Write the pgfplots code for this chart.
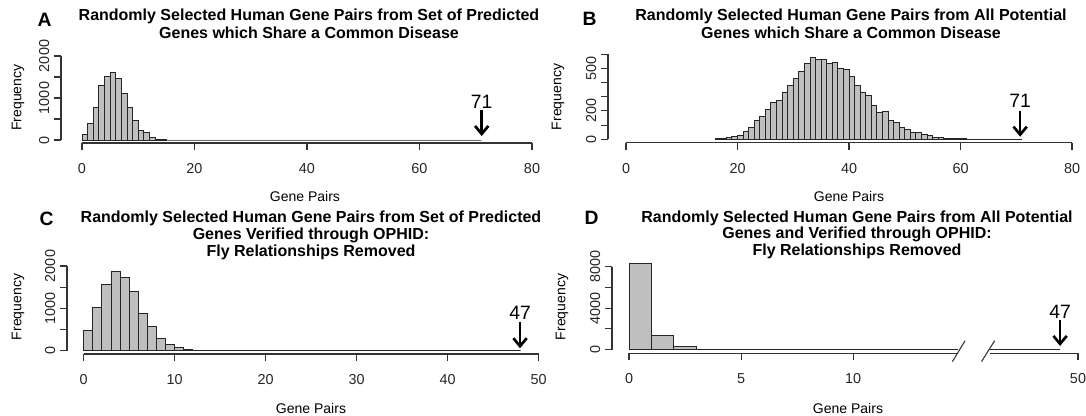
\documentclass[border=0pt]{standalone}
\usepackage{pgfplots}
\pgfplotsset{compat=1.18}
\usepackage{fontspec}
\setmainfont{Liberation Sans}
\usetikzlibrary{arrows.meta}

\pgfplotsset{
  rhist/.style={
    scale only axis, anchor=south west, clip=false,
    axis lines*=left, axis line style={draw=none},
    tick align=outside, major tick length=5.25pt,
    tick style={black!80, line width=0.8pt},
    tick label style={font=\fontsize{10.8}{12}\selectfont, text=black!85},
    yticklabel style={rotate=90, anchor=south},
    xticklabel style={anchor=north, yshift=-6.5pt},
  },
}
\tikzset{
  bars/.style={ybar interval, fill=gray!50, draw=black!85, line width=0.7pt},
  obs/.style={line width=2pt, -{Straight Barb[length=6pt,width=10pt]}},
  obslab/.style={anchor=base, font=\fontsize{14.5}{16}\selectfont},
  axline/.style={black!80, line width=0.8pt},
}

\begin{document}
\begin{tikzpicture}
\path[use as bounding box] (0,0) rectangle (814.5pt,-312pt);

% A
\begin{axis}[rhist, at={(45.75pt,-107.25pt)}, width=353.25pt, height=65.25pt,
  xmin=-3.73, xmax=80, ymin=-71.4, ymax=2000,
  xtick={0,20,40,60,80}, xticklabels={0,20,40,60,80},
  ytick={0,500,1000,1500,2000}, yticklabels={0,,1000,,2000}]
\addplot[bars] coordinates {
(0,134)(1,395)(2,767)(3,1289)(4,1502)(5,1605)(6,1470)(7,1107)(8,783)(9,474)
(10,237)(11,174)(12,71)(13,24)(14,8)(15,0)(16,0)(17,0)(18,0)(19,0)
(20,0)(21,0)(22,0)(23,0)(24,0)(25,0)(26,0)(27,0)(28,0)(29,0)
(30,0)(31,0)(32,0)(33,0)(34,0)(35,0)(36,0)(37,0)(38,0)(39,0)
(40,0)(41,0)(42,0)(43,0)(44,0)(45,0)(46,0)(47,0)(48,0)(49,0)
(50,0)(51,0)(52,0)(53,0)(54,0)(55,0)(56,0)(57,0)(58,0)(59,0)
(60,0)(61,0)(62,0)(63,0)(64,0)(65,0)(66,0)(67,0)(68,0)(69,0)
(70,0)(71,0)};
\draw[axline] (axis cs:0,-71.4) -- (axis cs:80,-71.4);
\draw[axline] (axis cs:-3.73,0) -- (axis cs:-3.73,2000);
\draw[obs] (axis cs:71.06,714) -- (axis cs:71.06,95);
\node[obslab] at (axis cs:71.06,755) {71};
\end{axis}

% B
\begin{axis}[rhist, at={(456pt,-107.025pt)}, width=348pt, height=66.3pt,
  xmin=-3.23, xmax=80, ymin=-24, ymax=600,
  xtick={0,20,40,60,80}, xticklabels={0,20,40,60,80},
  ytick={0,100,...,600}, yticklabels={0,,200,,,500,}]
\addplot[bars] coordinates {
(16,4)(17,4)(18,14)(19,21)(20,28)(21,56)(22,82)(23,136)(24,162)(25,214)
(26,259)(27,273)(28,334)(29,379)(30,428)(31,480)(32,536)(33,581)(34,562)(35,560)
(36,534)(37,539)(38,499)(39,494)(40,440)(41,379)(42,329)(43,311)(44,240)(45,188)
(46,195)(47,136)(48,118)(49,85)(50,66)(51,47)(52,45)(53,33)(54,26)(55,12)
(56,16)(57,4)(58,4)(59,3)(60,3)(61,0)(62,0)(63,0)(64,0)(65,0)
(66,0)(67,0)(68,0)(69,0)(70,0)(71,0)};
\draw[axline] (axis cs:0,-24) -- (axis cs:80,-24);
\draw[axline] (axis cs:-3.23,0) -- (axis cs:-3.23,600);
\draw[obs] (axis cs:70.7,202) -- (axis cs:70.7,18);
\node[obslab] at (axis cs:70.7,226) {71};
\end{axis}

% C
\begin{axis}[rhist, at={(50.25pt,-265.5pt)}, width=353.775pt, height=66pt,
  xmin=-1.835, xmax=50, ymin=-78, ymax=2000,
  xtick={0,10,20,30,40,50}, xticklabels={0,10,20,30,40,50},
  ytick={0,500,1000,1500,2000}, yticklabels={0,,1000,,2000}]
\addplot[bars] coordinates {
(0,472)(1,1016)(2,1559)(3,1874)(4,1732)(5,1409)(6,882)(7,575)(8,299)(9,150)
(10,71)(11,24)(12,5)(13,0)(14,0)(15,0)(16,0)(17,0)(18,0)(19,0)
(20,0)(21,0)(22,0)(23,0)(24,0)(25,0)(26,0)(27,0)(28,0)(29,0)
(30,0)(31,0)(32,0)(33,0)(34,0)(35,0)(36,0)(37,0)(38,0)(39,0)
(40,0)(41,0)(42,0)(43,0)(44,0)(45,0)(46,0)(47,0)(48,0)};
\draw[axline] (axis cs:0,-78) -- (axis cs:50,-78);
\draw[axline] (axis cs:-1.835,0) -- (axis cs:-1.835,2000);
\draw[obs] (axis cs:47.95,685) -- (axis cs:47.95,57);
\node[obslab] at (axis cs:47.95,741) {47};
\end{axis}

% D
\begin{axis}[rhist, at={(459pt,-264.975pt)}, width=349.5pt, height=64.95pt,
  xmin=-0.76, xmax=20.04, ymin=-347, ymax=8000,
  xtick={0,5,10,20.04}, xticklabels={0,5,10,50},
  ytick={0,2000,...,8000}, yticklabels={0,,4000,,8000}]
\addplot[bars] coordinates {
(0,8321)(1,1381)(2,353)(3,0)(4,0)(5,0)(6,0)(7,0)(8,0)(9,0)
(10,0)(11,0)(12,0)(13,0)(14,0)(14.69,0)};
\addplot[draw=black!85, line width=0.7pt] coordinates {(16.12,0)(19.24,0)};
\draw[axline] (axis cs:0,-347) -- (axis cs:14.69,-347);
\draw[axline] (axis cs:16.12,-347) -- (axis cs:20.04,-347);
\draw[axline] (axis cs:-0.76,0) -- (axis cs:-0.76,8000);
\draw[axline] (axis cs:14.43,-1157) -- (axis cs:15.0,867);
\draw[axline] (axis cs:15.73,-1157) -- (axis cs:16.32,867);
\draw[obs] (axis cs:19.24,2863) -- (axis cs:19.24,357);
\node[obslab] at (axis cs:19.24,3027) {47};
\end{axis}

\begin{scope}[x=0.75pt,y=-0.75pt]
\tikzset{ttl/.style={anchor=base, font=\bfseries\fontsize{12}{14}\selectfont},
  lett/.style={font=\bfseries\fontsize{14.5}{16}\selectfont},
  lab/.style={font=\fontsize{10.5}{12}\selectfont}}
\node[lett] at (44.5,19.5) {A};
\node[lett] at (589.5,19) {B};
\node[lett] at (46.5,218.5) {C};
\node[lett] at (591.5,218) {D};
\node[ttl] at (309,21) {Randomly Selected Human Gene Pairs from Set of Predicted};
\node[ttl] at (309,39) {Genes which Share a Common Disease};
\node[ttl] at (851,21) {Randomly Selected Human Gene Pairs from All Potential};
\node[ttl] at (851,39) {Genes which Share a Common Disease};
\node[ttl] at (311,223) {Randomly Selected Human Gene Pairs from Set of Predicted};
\node[ttl] at (311,240) {Genes Verified through OPHID:};
\node[ttl] at (311,257) {Fly Relationships Removed};
\node[ttl] at (857,222.5) {Randomly Selected Human Gene Pairs from All Potential};
\node[ttl] at (857,239) {Genes and Verified through OPHID:};
\node[ttl] at (857,256) {Fly Relationships Removed};
\node[lab, rotate=90] at (18,97.5) {Frequency};
\node[lab, rotate=90] at (558,97) {Frequency};
\node[lab, rotate=90] at (18,307) {Frequency};
\node[lab, rotate=90] at (562,307) {Frequency};
\node[lab] at (305,196) {Gene Pairs};
\node[lab] at (849,196) {Gene Pairs};
\node[lab] at (311,408) {Gene Pairs};
\node[lab] at (848,408) {Gene Pairs};
\end{scope}
\end{tikzpicture}
\end{document}
